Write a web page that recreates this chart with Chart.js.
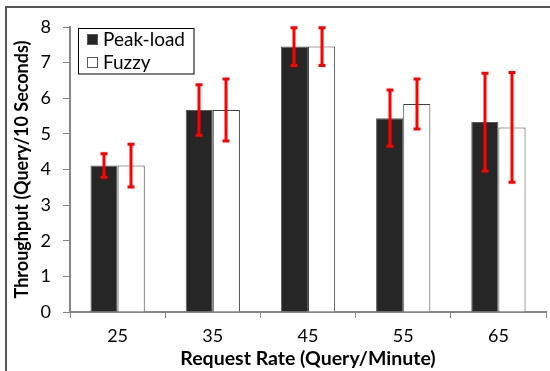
<!DOCTYPE html>
<html>
<head>
<meta charset="utf-8">
<script src="https://cdn.jsdelivr.net/npm/chart.js@4.4.1/dist/chart.umd.min.js"></script>
<style>
  html, body { margin: 0; padding: 0; background: #fff; }
  #wrap { position: relative; width: 550px; height: 371px; }
</style>
</head>
<body>
<div id="wrap"><canvas id="chart" width="550" height="371"></canvas></div>
<script>
// ---- DATA ----
const categories = ['25', '35', '45', '55', '65'];
const peakLoad = [4.11, 5.67, 7.45, 5.44, 5.33];
const peakLoadErr = [0.33, 0.71, 0.53, 0.79, 1.37];
const fuzzy = [4.11, 5.67, 7.45, 5.84, 5.18];
const fuzzyErr = [0.60, 0.87, 0.53, 0.70, 1.54];
const yTicks = [0, 1, 2, 3, 4, 5, 6, 7, 8];

const FONT = 'Lato';
const AXIS_GRAY = '#868686';

// ---- PLUGINS ----
const frame = {
  id: 'frame',
  beforeDraw(chart) {
    const ctx = chart.ctx;
    ctx.save();
    ctx.strokeStyle = '#555';
    ctx.lineWidth = 2;
    ctx.beginPath();
    ctx.moveTo(6, 371);
    ctx.lineTo(6, 7);
    ctx.lineTo(550, 7);
    ctx.stroke();
    ctx.restore();
  }
};

const errorBars = {
  id: 'errorBars',
  afterDatasetsDraw(chart) {
    const ctx = chart.ctx;
    const y = chart.scales.y;
    ctx.save();
    ctx.strokeStyle = '#ff0000';
    ctx.lineWidth = 3;
    chart.data.datasets.forEach((ds, i) => {
      const meta = chart.getDatasetMeta(i);
      meta.data.forEach((bar, j) => {
        const v = ds.data[j], e = ds.errors[j];
        const top = y.getPixelForValue(v + e);
        const bot = y.getPixelForValue(v - e);
        const x = Math.round(bar.x);
        ctx.beginPath();
        ctx.moveTo(x, top); ctx.lineTo(x, bot);
        ctx.moveTo(x - 3.5, top); ctx.lineTo(x + 3.5, top);
        ctx.moveTo(x - 3.5, bot); ctx.lineTo(x + 3.5, bot);
        ctx.stroke();
      });
    });
    ctx.restore();
  }
};

const boxLegend = {
  id: 'boxLegend',
  afterDraw(chart) {
    const ctx = chart.ctx;
    ctx.save();
    ctx.strokeStyle = '#000';
    ctx.lineWidth = 1;
    ctx.fillStyle = '#fff';
    ctx.fillRect(78.5, 28.5, 115.5, 45.5);
    ctx.strokeRect(78.5, 28.5, 115.5, 45.5);
    ctx.font = '19px ' + FONT;
    ctx.textBaseline = 'middle';
    chart.data.datasets.forEach((ds, i) => {
      const cy = 40 + i * 23;
      ctx.fillStyle = ds.backgroundColor;
      ctx.fillRect(87.5, cy - 5.5, 10, 10);
      ctx.strokeStyle = '#595959';
      ctx.strokeRect(87.5, cy - 5.5, 10, 10);
      ctx.fillStyle = '#000';
      ctx.fillText(ds.label, 103, cy);
    });
    ctx.restore();
  }
};

// ---- CHART ----
new Chart(document.getElementById('chart'), {
  type: 'bar',
  data: {
    labels: categories,
    datasets: [
      { label: 'Peak-load', data: peakLoad, errors: peakLoadErr,
        backgroundColor: '#262626', borderColor: '#595959', borderWidth: 1 },
      { label: 'Fuzzy', data: fuzzy, errors: fuzzyErr,
        backgroundColor: '#ffffff', borderColor: '#404040', borderWidth: 1 }
    ]
  },
  options: {
    responsive: false,
    animation: false,
    layout: { padding: { top: 27, right: 4, bottom: 0, left: 0 } },
    datasets: { bar: { categoryPercentage: 0.57, barPercentage: 1.0 } },
    plugins: { legend: { display: false }, tooltip: { enabled: false } },
    scales: {
      x: {
        offset: true,
        grid: { offset: true, drawOnChartArea: false, color: AXIS_GRAY, tickLength: 6 },
        border: { color: AXIS_GRAY, width: 2 },
        ticks: { color: '#000', font: { family: FONT, size: 18 }, padding: 7 },
        title: { display: true, text: 'Request Rate (Query/Minute)', color: '#000',
                 font: { family: FONT, size: 19.5, weight: 'bold' }, padding: { top: 0, bottom: 1 } },
        afterFit(s) { s.height = 59; }
      },
      y: {
        min: 0, max: 8,
        afterBuildTicks(s) { s.ticks = yTicks.map(v => ({ value: v })); },
        grid: { drawOnChartArea: false, color: AXIS_GRAY, tickLength: 7 },
        border: { color: AXIS_GRAY, width: 2 },
        ticks: { color: '#000', font: { family: FONT, size: 18 }, padding: 12 },
        title: { display: true, text: 'Throughput (Query/10 Seconds)', color: '#000',
                 font: { family: FONT, size: 18, weight: 'bold' }, padding: { top: 11, bottom: 0 } },
        afterFit(s) { s.width = 70; }
      }
    }
  },
  plugins: [frame, errorBars, boxLegend]
});
</script>
</body>
</html>
